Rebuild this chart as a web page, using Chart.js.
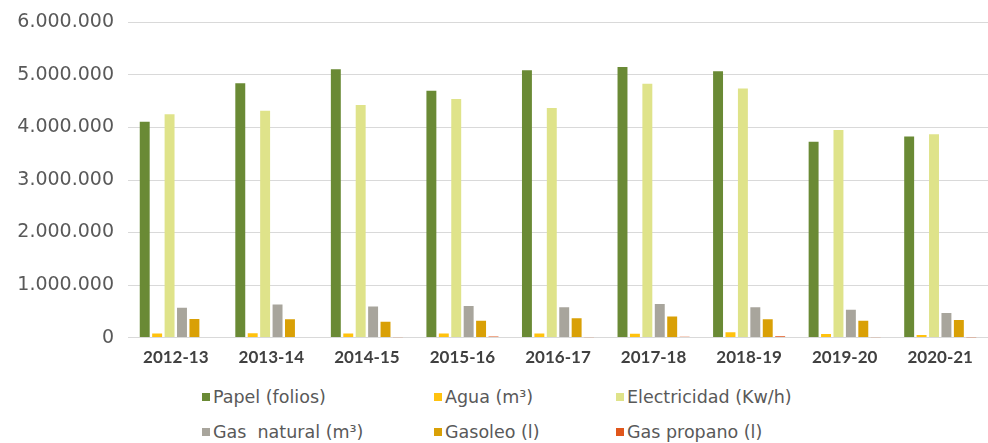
<!DOCTYPE html>
<html>
<head>
<meta charset="utf-8">
<script src="https://cdn.jsdelivr.net/npm/chart.js@4"></script>
<style>
  body { margin: 0; background: #fff; font-family: "DejaVu Sans", sans-serif; }
  .wrap { position: relative; width: 988px; height: 443px; overflow: hidden; }
  .chart_box { position: absolute; left: 0; top: -3px; width: 988px; height: 373px; }
  .legend { position: absolute; left: 0; top: 387px; width: 988px; height: 56px; }
  .legend_item { position: absolute; font-size: 17.5px; color: #595959; white-space: pre; }
  .legend_item span.box { display: inline-block; width: 8px; height: 8px; margin-right: 3px; vertical-align: 2px; }
</style>
</head>
<body>
<div class="wrap">
  <div class="chart_box"><canvas id="my_chart"></canvas></div>
  <div class="legend" id="legend"></div>
</div>
<script>
const years = ['2012-13', '2013-14', '2014-15', '2015-16', '2016-17', '2017-18', '2018-19', '2019-20', '2020-21'];
const seriesNames = ['Papel (folios)', 'Agua (m³)', 'Electricidad (Kw/h)', 'Gas  natural (m³)', 'Gasoleo (l)', 'Gas propano (l)'];

const papel = [4110000, 4840000, 5110000, 4700000, 5090000, 5150000, 5070000, 3730000, 3830000];
const agua = [80000, 85000, 80000, 80000, 80000, 75000, 100000, 70000, 50000];
const electricidad = [4250000, 4320000, 4430000, 4540000, 4370000, 4830000, 4740000, 3950000, 3870000];
const gasNatural = [570000, 630000, 590000, 600000, 580000, 640000, 580000, 530000, 470000];
const gasoleo = [355000, 350000, 300000, 320000, 370000, 400000, 350000, 320000, 335000];
const gasPropano = [0, 0, 5000, 20000, 5000, 15000, 25000, 5000, 3000];

const yTicks = [0, 1000000, 2000000, 3000000, 4000000, 5000000, 6000000];

const colors = ['#6a8a35', '#ffc20e', '#dfe38a', '#a8a59c', '#d9a006', '#e0561b'];
const allSeries = [papel, agua, electricidad, gasNatural, gasoleo, gasPropano];

const ctx = document.getElementById('my_chart');

const formatNumber = (n) => String(n).replace(/\B(?=(\d{3})+(?!\d))/g, '.');

var myChart = new Chart(ctx, {
    type: 'bar',
    data: {
      labels: years,
      datasets: allSeries.map((values, i) => ({
        label: seriesNames[i],
        data: values,
        backgroundColor: colors[i],
        categoryPercentage: 0.78,
        barPercentage: 0.8,
      }))
    },
    options: {
      responsive: true,
      maintainAspectRatio: false,
      animation: false,
      layout: {
        padding: { top: 3, right: 0, left: 4, bottom: 0 }
      },
      scales: {
        x: {
          grid: { display: false },
          border: { display: false },
          ticks: {
            color: '#404040',
            font: { family: 'Lato', size: 17, weight: 'bold' },
            padding: 2,
          }
        },
        y: {
          min: 0,
          max: 6000000,
          afterBuildTicks: (axis) => { axis.ticks = yTicks.map(v => ({ value: v })); },
          afterFit: (axis) => { axis.width = 124; },
          grid: { color: '#d9d9d9', lineWidth: 1, drawTicks: false },
          border: { display: false },
          ticks: {
            color: '#595959',
            font: { family: 'DejaVu Sans', size: 19 },
            padding: 14,
            callback: (value) => formatNumber(value),
          }
        }
      },
      plugins: {
        legend: { display: false },
        tooltip: { enabled: false },
      },
    }
  });

// legend in three columns like the original
const legend = document.getElementById('legend');
const legendCols = [202, 434, 616];
const legendRows = [0, 35];
seriesNames.forEach((name, i) => {
    const item = document.createElement('div');
    item.className = 'legend_item';
    item.style.left = legendCols[i % 3] + 'px';
    item.style.top = legendRows[Math.floor(i / 3)] + 'px';
    item.innerHTML = '<span class="box" style="background:' + colors[i] + '"></span>' + name;
    legend.appendChild(item);
});
</script>
</body>
</html>
